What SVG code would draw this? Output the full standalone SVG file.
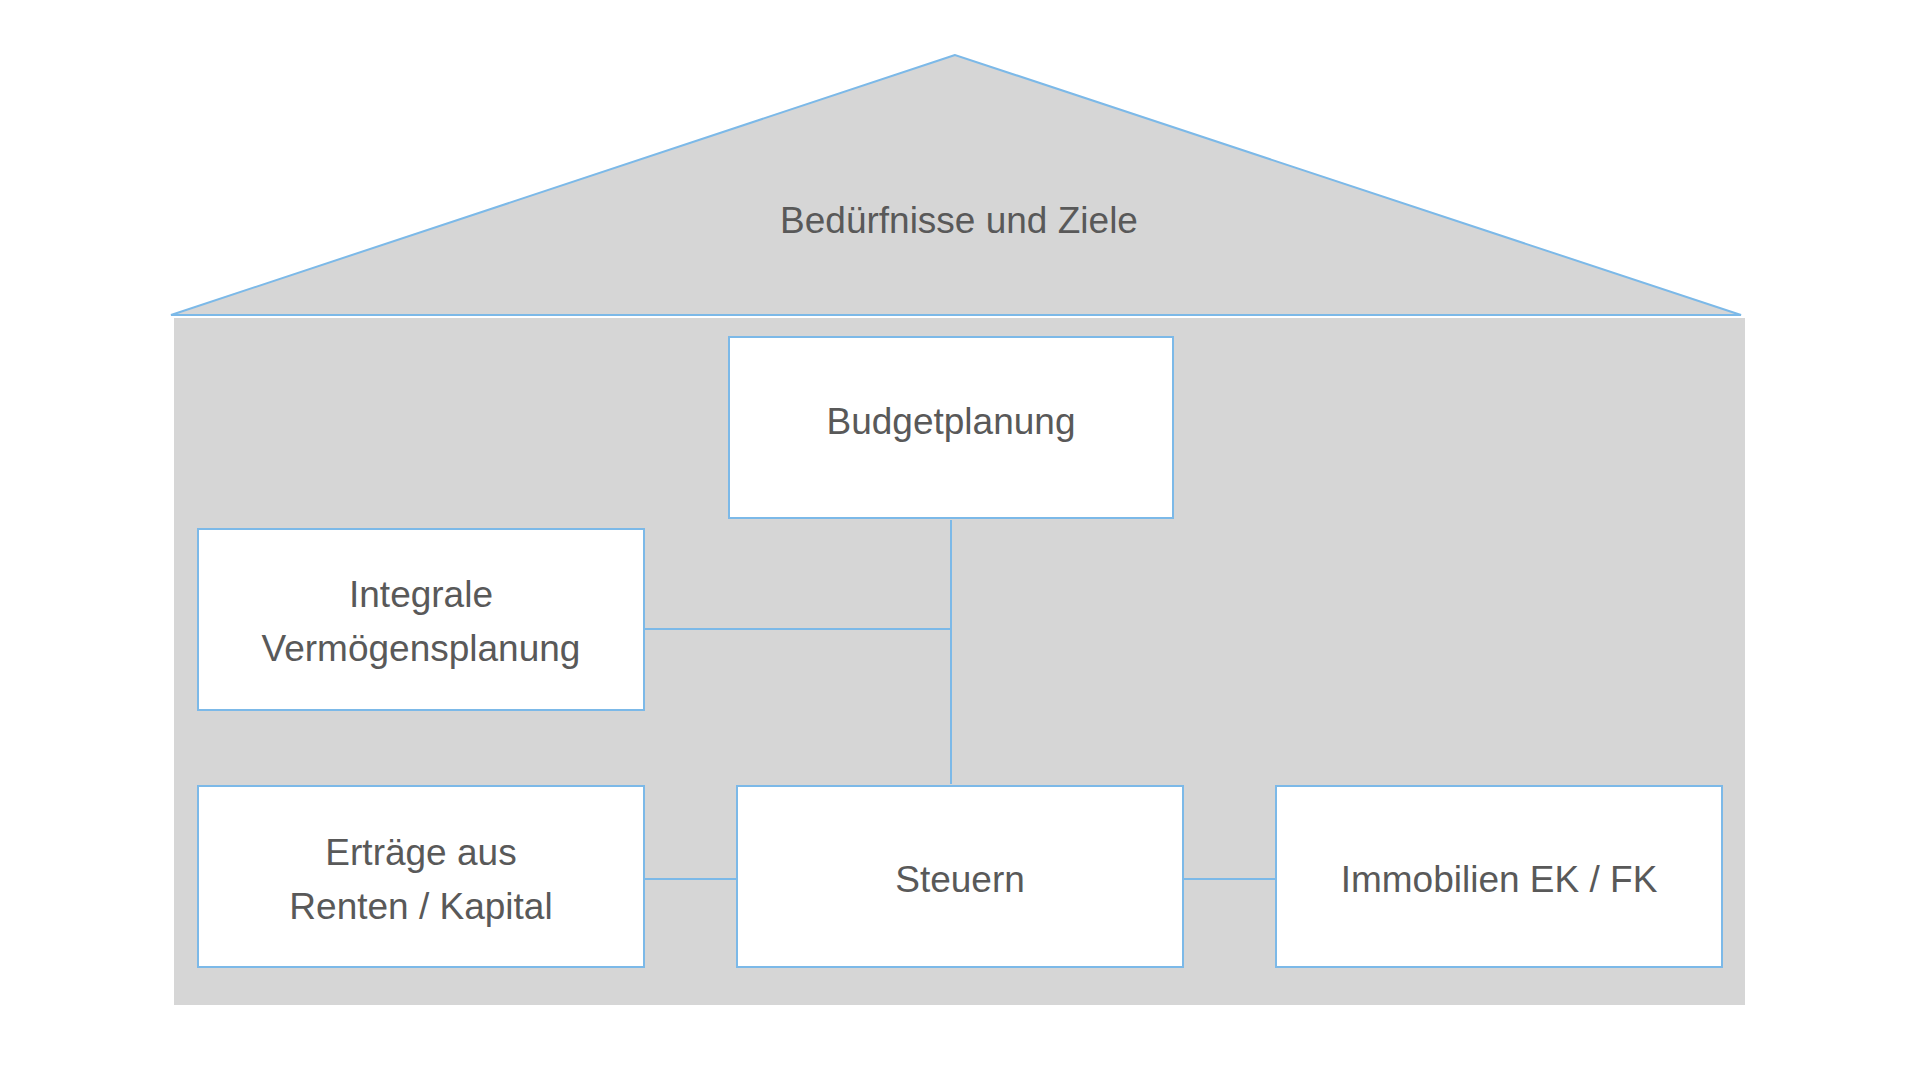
<svg xmlns="http://www.w3.org/2000/svg" width="1920" height="1080" viewBox="0 0 1920 1080">
<style>
.box{fill:#fff;stroke:#7cb9e8;stroke-width:2}
.t{font-family:"Liberation Sans",Arial,sans-serif;font-size:37px;fill:#595959;text-anchor:middle;dominant-baseline:central}
.c{stroke:#7cb9e8;stroke-width:2;fill:none}
</style>
<rect width="1920" height="1080" fill="#fff"/>
<g id="house">
<rect x="174" y="318" width="1571" height="687" fill="#d6d6d6"/>
<polygon points="955,55 171,315 1741,315" fill="#d6d6d6" stroke="#7cb9e8" stroke-width="2"/>
<text class="t" x="959" y="220">Bedürfnisse und Ziele</text>
</g>
<g id="connectors">
<line class="c" x1="951" y1="520" x2="951" y2="784"/>
<line class="c" x1="644" y1="629" x2="951" y2="629"/>
<line class="c" x1="644" y1="879" x2="737" y2="879"/>
<line class="c" x1="1183" y1="879" x2="1278" y2="879"/>
</g>
<g id="budget"><rect class="box" x="729" y="337" width="444" height="181"/><text class="t" x="951" y="421">Budgetplanung</text></g>
<g id="integrale"><rect class="box" x="198" y="529" width="446" height="181"/><text class="t" x="421" y="594">Integrale</text><text class="t" x="421" y="648">Vermögensplanung</text></g>
<g id="ertraege"><rect class="box" x="198" y="786" width="446" height="181"/><text class="t" x="421" y="852">Erträge aus</text><text class="t" x="421" y="906">Renten / Kapital</text></g>
<g id="steuern"><rect class="box" x="737" y="786" width="446" height="181"/><text class="t" x="960" y="879">Steuern</text></g>
<g id="immobilien"><rect class="box" x="1276" y="786" width="446" height="181"/><text class="t" x="1499" y="879">Immobilien EK / FK</text></g>
</svg>
